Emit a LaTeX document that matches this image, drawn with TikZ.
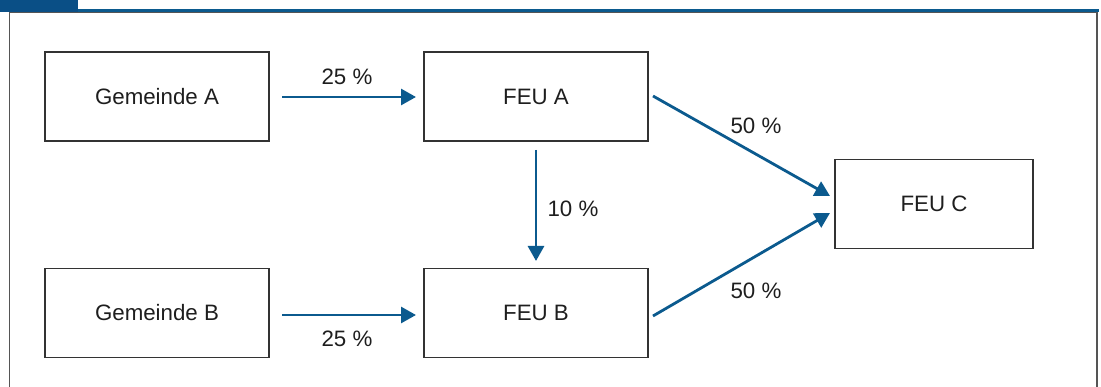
\documentclass[tikz,border=0pt]{standalone}
\usepackage{fontspec}
\setmainfont{Liberation Sans}
\usetikzlibrary{arrows.meta}
\definecolor{flowblue}{HTML}{0B5A8E}
\definecolor{tabblue}{HTML}{0A4F86}
\definecolor{framegray}{HTML}{555555}
\definecolor{boxgray}{HTML}{333333}
\definecolor{txtgray}{HTML}{1E1E1E}
\begin{document}
\begin{tikzpicture}[x=1pt,y=-1pt,
  entity/.style={draw=boxgray,line width=1.4pt,minimum width=224pt,minimum height=89pt,inner sep=0pt,
    font=\fontsize{22.3}{26}\selectfont,text=txtgray},
  flow/.style={draw=flowblue,line width=2.8pt,-{Triangle[length=15pt,width=16pt]}},
  lab/.style={font=\fontsize{22.3}{26}\selectfont,text=txtgray,inner sep=0pt}]
\useasboundingbox (0,0) rectangle (1101,387);
% frame
\draw[framegray,line width=1.6pt] (9.5,400) -- (9.5,12.5) -- (1097,12.5) -- (1097,400);
\fill[flowblue] (0,9.5) rectangle (1099,11.8);
\fill[tabblue] (0,0) rectangle (78,11.8);
% nodes
\node[entity] (ga) at (157,96.5) {Gemeinde A};
\node[entity] (fa) at (536,96.5) {FEU A};
\node[entity, minimum width=198pt] (fc) at (934,204) {FEU C};
\node[entity] (gb) at (157,313) {Gemeinde B};
\node[entity] (fb) at (536,313) {FEU B};
% connectors
\coordinate (ga1) at (282,97); \coordinate (fa1) at (416,97);
\coordinate (gb1) at (282,315); \coordinate (fb1) at (416,315);
\coordinate (fa2) at (536,150); \coordinate (fb2) at (536,261);
\coordinate (fa3) at (653,96); \coordinate (fc1) at (830,196);
\coordinate (fb3) at (653,316); \coordinate (fc2) at (830,213);
\draw[flow] (ga1) -- (fa1);
\draw[flow] (gb1) -- (fb1);
\draw[flow] (fa2) -- (fb2);
\draw[flow] (fa3) -- (fc1);
\draw[flow] (fb3) -- (fc2);
% labels
\node[lab] (l1) at (347,77) {25 \%};
\node[lab] (l2) at (347,339) {25 \%};
\node[lab] (l3) at (573,209) {10 \%};
\node[lab] (l4) at (756,126) {50 \%};
\node[lab] (l5) at (756,291) {50 \%};
\end{tikzpicture}
\end{document}
